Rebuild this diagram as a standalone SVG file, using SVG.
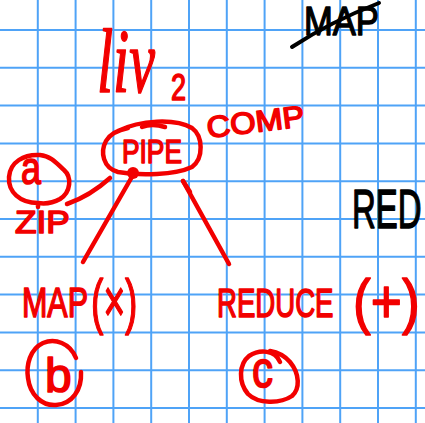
<svg xmlns="http://www.w3.org/2000/svg" width="425" height="423" viewBox="0 0 425 423">
  <style>
    .grid line { stroke: #4fa3f7; stroke-width: 2; }
    .ink { fill: none; stroke: #f20000; stroke-width: 4.5; stroke-linecap: round; stroke-linejoin: round; }
    .r { fill: #f20000; stroke: #f20000; stroke-width: 1.6; stroke-linejoin: round; font-family: "Liberation Sans", "DejaVu Sans", sans-serif; }
    .k { fill: #000; stroke: #000; stroke-width: 1.4; stroke-linejoin: round; font-family: "Liberation Sans", "DejaVu Sans", sans-serif; }
    .serif { font-family: "Liberation Serif", "DejaVu Serif", serif; font-style: italic; }
    .kline { fill: none; stroke: #000; stroke-width: 4; stroke-linecap: round; }
  </style>

  <rect width="425" height="423" fill="#fff"/>

  <!-- squared paper -->
  <g class="grid">
    <line x1="37.8" y1="0" x2="37.8" y2="423"/>
    <line x1="75.6" y1="0" x2="75.6" y2="423"/>
    <line x1="113.4" y1="0" x2="113.4" y2="423"/>
    <line x1="151.2" y1="0" x2="151.2" y2="423"/>
    <line x1="189" y1="0" x2="189" y2="423"/>
    <line x1="226.8" y1="0" x2="226.8" y2="423"/>
    <line x1="264.6" y1="0" x2="264.6" y2="423"/>
    <line x1="302.4" y1="0" x2="302.4" y2="423"/>
    <line x1="340.2" y1="0" x2="340.2" y2="423"/>
    <line x1="378" y1="0" x2="378" y2="423"/>
    <line x1="415.8" y1="0" x2="415.8" y2="423"/>
    <line x1="0" y1="30" x2="425" y2="30"/>
    <line x1="0" y1="67.8" x2="425" y2="67.8"/>
    <line x1="0" y1="105.6" x2="425" y2="105.6"/>
    <line x1="0" y1="143.4" x2="425" y2="143.4"/>
    <line x1="0" y1="181.2" x2="425" y2="181.2"/>
    <line x1="0" y1="219" x2="425" y2="219"/>
    <line x1="0" y1="256.8" x2="425" y2="256.8"/>
    <line x1="0" y1="294.6" x2="425" y2="294.6"/>
    <line x1="0" y1="332.4" x2="425" y2="332.4"/>
    <line x1="0" y1="370.2" x2="425" y2="370.2"/>
    <line x1="0" y1="408" x2="425" y2="408"/>
  </g>

  <!-- struck-out heading, top right -->
  <g id="crossed-map">
    <text class="k" font-size="40" transform="translate(304 35) scale(0.865 1)">MAP</text>
    <path class="kline" d="M292 47 Q 330 22 379 3"/>
  </g>

  <!-- black word at right edge -->
  <g id="red-word">
    <text class="k" font-size="55" transform="translate(352 228) scale(0.6 1)">RED</text>
  </g>

  <!-- title -->
  <g id="title">
    <text class="r serif" stroke-width="1" font-size="90" transform="translate(97 92) scale(0.644 1)">liv</text>
    <text class="r" stroke-width="1" font-size="36" transform="translate(171 100) scale(0.75 1)">2</text>
  </g>

  <!-- connectors -->
  <g id="connectors">
    <path class="ink" d="M67 204 Q 90 196 110 178"/>
    <path class="ink" d="M133 175 L 83 262"/>
    <path class="ink" d="M183 181 L 229 264"/>
    <path class="ink" stroke-width="6.5" d="M183 181 L 190 192"/>
  </g>

  <!-- PIPE node -->
  <g id="node-pipe">
    <path class="ink" d="M118 131 C 140 120 175 118 192 128 C 203 136 204 158 192 167 C 175 175 140 176 118 172 C 103 168 100 152 106 141 C 110 134 118 130 128 128"/>
    <path class="ink" d="M142 127 Q 152 123 165 127"/>
    <text class="r" font-size="34" transform="translate(122 163) scale(0.774 1)">PIPE</text>
    <circle cx="133" cy="173" r="6" fill="#f20000"/>
  </g>

  <!-- COMP label -->
  <g id="node-comp">
    <text class="r" font-size="30" transform="translate(208 138) rotate(-7) scale(1.09 1)">COMP</text>
  </g>

  <!-- (a) ZIP -->
  <g id="node-a-zip">
    <path class="ink" d="M38 203 C 20 203 8 192 9 177 C 10 162 24 154 40 155 C 52 156 58 165 64 170 C 72 177 71 192 60 199 C 53 203 45 204 38 203 L 38 207"/>
    <text class="r" font-size="46" transform="translate(21 184) scale(0.78 1)">a</text>
    <text class="r" font-size="32" transform="translate(15 233) scale(1.1 1)">ZIP</text>
  </g>

  <!-- MAP (×) -->
  <g id="node-map">
    <text class="r" font-size="42" transform="translate(22 317) scale(0.725 1)">MAP</text>
    <text class="r" font-size="62" transform="translate(91 322) scale(0.6 1)">(×)</text>
  </g>

  <!-- REDUCE (+) -->
  <g id="node-reduce">
    <text class="r" font-size="40" transform="translate(217 317) scale(0.69 1)">REDUCE</text>
    <text class="r" font-size="62" transform="translate(353 322) scale(0.86 1)">(+)</text>
  </g>

  <!-- (b) -->
  <g id="node-b">
    <path class="ink" d="M76 358 C 70 343 55 338 43 343 C 30 349 26 365 28 378 C 30 395 42 406 56 405 C 72 404 82 390 81 372"/>
    <text class="r" font-size="48" transform="translate(45 392)">b</text>
  </g>

  <!-- (c) -->
  <g id="node-c">
    <path class="ink" d="M280 362 C 275 350 260 349 249 356 C 239 364 238 382 248 394 C 258 404 280 404 292 396 C 300 389 300 374 290 362 C 284 355 276 352 270 351"/>
    <text class="r" font-size="52" transform="translate(252 387) scale(0.81 1)">c</text>
  </g>
</svg>
